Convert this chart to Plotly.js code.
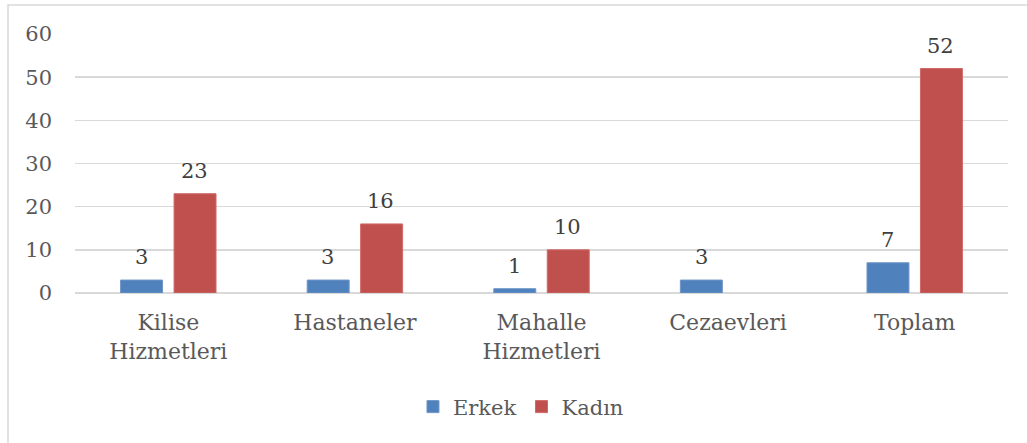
<!DOCTYPE html>
<html>
<head>
<meta charset="utf-8">
<script src="https://cdn.plot.ly/plotly-3.0.1.min.js"></script>
<style>html,body{margin:0;padding:0;background:#fff;}#chart{width:1027px;height:443px;}</style>
</head>
<body>
<div id="chart"></div>
<script>
const categories = ["Kilise<br>Hizmetleri", "Hastaneler", "Mahalle<br>Hizmetleri", "Cezaevleri", "Toplam"];
const erkek = [3, 3, 1, 3, 7];
const kadin = [23, 16, 10, null, 52];
const yTicks = [0, 10, 20, 30, 40, 50, 60];

const FONT = "DejaVu Serif, Liberation Serif, serif";
const GREY = "#595959";

const traces = [
  {type: "bar", name: "Erkek", x: categories, y: erkek,
   marker: {color: "#4f81bd", line: {color: "#6f95c8", width: 1}}, hoverinfo: "y"},
  {type: "bar", name: "Kadın", x: categories, y: kadin,
   marker: {color: "#c0504d", line: {color: "#cf6a67", width: 1}}, hoverinfo: "y"}
];

const annotations = [];
[[erkek, -27], [kadin, 26]].forEach(([vals, shift]) => {
  vals.forEach((v, i) => {
    if (v === null || v === undefined) return;
    annotations.push({x: categories[i], y: v, xref: "x", yref: "y", text: String(v),
      showarrow: false, xshift: shift, yshift: 9, yanchor: "bottom",
      font: {family: FONT, size: 21, color: "#404040"}});
  });
});

const layout = {
  width: 1027, height: 443,
  margin: {l: 75, r: 19, t: 34, b: 150, pad: 0},
  paper_bgcolor: "#ffffff", plot_bgcolor: "#ffffff",
  font: {family: FONT, size: 21, color: GREY},
  barmode: "group", bargap: 0.427, bargroupgap: 0.215,
  showlegend: true,
  legend: {orientation: "h", x: 0.478, xanchor: "center", y: -0.44, yanchor: "middle",
           font: {family: FONT, size: 21, color: GREY}, traceorder: "normal"},
  xaxis: {type: "category", showgrid: false, zeroline: false, showline: false, ticks: "",
          tickfont: {family: FONT, size: 22, color: GREY}, ticklabelstandoff: 14, fixedrange: true},
  yaxis: {range: [0, 60], tickvals: yTicks, ticktext: yTicks.map(String), showgrid: true,
          gridcolor: "#d9d9d9", gridwidth: 1.5, zeroline: true, zerolinecolor: "#d9d9d9", zerolinewidth: 1.5,
          showline: false, ticks: "", ticklabelstandoff: 22,
          tickfont: {family: FONT, size: 21, color: GREY}, fixedrange: true},
  annotations: annotations,
  shapes: [
    {type: "rect", xref: "paper", yref: "paper", x0: -0.0718, x1: 1.05, y0: -0.6, y1: 1.112,
     line: {color: "#d9d9d9", width: 1.5}, fillcolor: "rgba(0,0,0,0)", layer: "below"}
  ]
};

Plotly.newPlot("chart", traces, layout, {displayModeBar: false, staticPlot: true});
</script>
</body>
</html>
